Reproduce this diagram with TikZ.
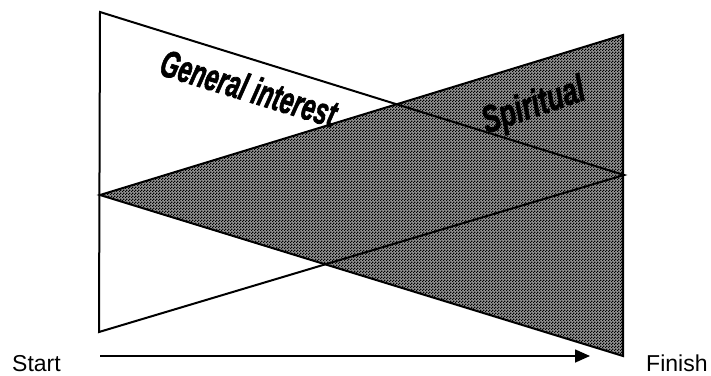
\documentclass[tikz,border=0pt]{standalone}
\usepackage{fontspec}
\setmainfont{Liberation Sans}
\newfontfamily\heavyitalic[FakeBold=2]{Liberation Sans Bold Italic}
\usetikzlibrary{arrows.meta,patterns}

% fine checkerboard used as the dithered grey fill
\pgfdeclarepatternformonly{checker}{\pgfpointorigin}{\pgfqpoint{2.6pt}{2.6pt}}{\pgfqpoint{2.6pt}{2.6pt}}{%
  \pgfpathrectangle{\pgfpointorigin}{\pgfqpoint{1.3pt}{1.3pt}}%
  \pgfpathrectangle{\pgfqpoint{1.3pt}{1.3pt}}{\pgfqpoint{1.3pt}{1.3pt}}%
  \pgfusepath{fill}}

\tikzset{
  edge/.style={line width=2pt, line join=miter},
  shaded/.style={pattern=checker, pattern color=black},
  slanted/.style={font=\fontsize{38}{38}\heavyitalic, inner sep=0pt},
  plain/.style={font=\fontsize{23}{23}\selectfont, inner sep=0pt, anchor=base west},
  timeline/.style={line width=1.6pt, -{Triangle[length=15pt,width=13pt]}}
}

\begin{document}
\begin{tikzpicture}[x=1pt,y=-1pt]
  \useasboundingbox (0,0) rectangle (711,375);

  % corners of the two triangles
  \coordinate (w1) at (100,12);
  \coordinate (w2) at (99,332);
  \coordinate (w3) at (624,175);
  \coordinate (g1) at (100,195);
  \coordinate (g2) at (623,35);
  \coordinate (g3) at (623,356);

  % shaded triangle widening to the right
  \fill[black!42] (g1) -- (g2) -- (g3) -- cycle;
  \fill[shaded] (g1) -- (g2) -- (g3) -- cycle;
  \draw[edge] (g1) -- (g2) -- (g3) -- cycle;

  % open triangle narrowing to the right
  \draw[edge] (w1) -- (w2) -- (w3) -- cycle;

  % labels inside the triangles
  \node[slanted, rotate=-17] (gen) at (249,88) {\scalebox{0.63}[1]{General interest}};
  \node[slanted, rotate=19] (spi) at (534,107) {\scalebox{0.7}[1]{Spiritual}};

  % time axis
  \node[plain] (start) at (12,371) {Start};
  \node[plain] (finish) at (646,371) {Finish};
  \coordinate (a0) at (100,356);
  \coordinate (a1) at (590,356);
  \draw[timeline] (a0) -- (a1);
\end{tikzpicture}
\end{document}
